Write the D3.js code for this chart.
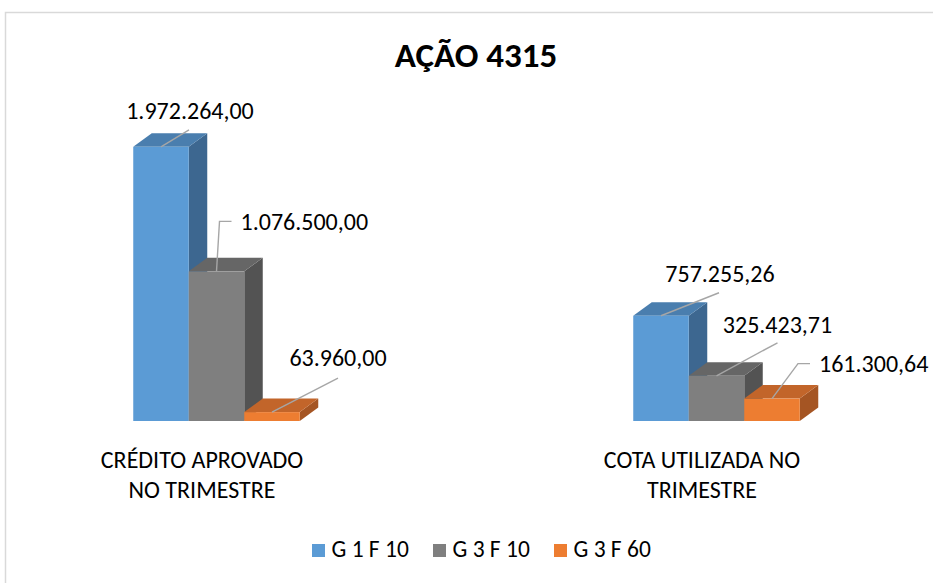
<!DOCTYPE html>
<html>
<head>
<meta charset="utf-8">
<script src="https://cdn.jsdelivr.net/npm/d3@7"></script>
<style>
  body { margin: 0; background: #fff; }
  text { font-family: Carlito, Calibri, "Liberation Sans", Arial, sans-serif; fill: #000; }
</style>
</head>
<body>
<svg id="chart" width="933" height="583"></svg>
<script>
// Chart data
var categories = ["CRÉDITO APROVADO NO TRIMESTRE", "COTA UTILIZADA NO TRIMESTRE"];
var categoryLines = [["CRÉDITO APROVADO", "NO TRIMESTRE"], ["COTA UTILIZADA NO", "TRIMESTRE"]];
var seriesNames = ["G 1 F 10", "G 3 F 10", "G 3 F 60"];
var g1f10 = [1972264.00, 757255.26];
var g3f10 = [1076500.00, 325423.71];
var g3f60 = [63960.00, 161300.64];
var title = "AÇÃO 4315";

// Colours: front, top, side
var colors = [
  ["#5b9bd5", "#4a7eae", "#3d6790"],
  ["#7f7f7f", "#666666", "#535353"],
  ["#ed7d31", "#c2652a", "#a55523"]
];

// Label leader offsets (from front-top centre of each bar), placed by hand like the original
var labelLayout = [
  [ {pts: [[28, -17]], tx: 29, ty: -28, anchor: "middle"},
    {pts: [[58, -23]], tx: 59, ty: -34, anchor: "middle"} ],
  [ {pts: [[3, -50], [15, -50]], tx: 24, ty: -41, anchor: "start"},
    {pts: [[61, -33]], tx: 61, ty: -43, anchor: "middle"} ],
  [ {pts: [[66, -34]], tx: 66, ty: -46, anchor: "middle"},
    {pts: [[26, -35], [38, -35]], tx: 47, ty: -27, anchor: "start"} ]
];

var series = [g1f10, g3f10, g3f60];
var depthX = 18.5, depthY = -13.5;

var svg = d3.select("#chart");

// Outer border
svg.append("rect")
   .attr("x", 5.5).attr("y", 12.5)
   .attr("width", 960).attr("height", 600)
   .attr("fill", "none")
   .attr("stroke", "#d9d9d9")
   .attr("stroke-width", 1.5);

// Title
svg.append("text")
   .attr("x", 476).attr("y", 67)
   .attr("text-anchor", "middle")
   .style("font-size", "35px")
   .style("font-weight", "bold")
   .text(title);

// Scales
var x = d3.scaleBand().domain(categories).range([-48, 952]);
var xInner = d3.scaleBand().domain(seriesNames).range([0, 166.5]);
var y = d3.scaleLinear().domain([0, 2000000]).range([421, 143]);

var ptBR = d3.formatLocale({decimal: ",", thousands: ".", grouping: [3], currency: ["R$", ""]});
var fmt = ptBR.format(",.2f");

var bars = svg.append("g");
var labels = svg.append("g");

categories.forEach(function(cat, ci) {
  var groupLeft = x(cat) + x.bandwidth() / 2 + 14.5 - 83.25;
  seriesNames.forEach(function(name, si) {
    var v = series[si][ci];
    var x0 = groupLeft + xInner(name);
    var x1 = x0 + xInner.bandwidth();
    var yt = y(v), yb = y(0);
    var c = colors[si];

    // side face
    bars.append("polygon")
        .attr("points", [[x1, yt], [x1 + depthX, yt + depthY], [x1 + depthX, yb + depthY], [x1, yb]].join(" "))
        .attr("fill", c[2]);
    // top face
    bars.append("polygon")
        .attr("points", [[x0, yt], [x0 + depthX, yt + depthY], [x1 + depthX, yt + depthY], [x1, yt]].join(" "))
        .attr("fill", c[1]);
    // front face
    bars.append("rect")
        .attr("x", x0).attr("y", yt)
        .attr("width", x1 - x0).attr("height", yb - yt)
        .attr("fill", c[0]);

    // data label with leader line
    var lay = labelLayout[si][ci];
    var cx = (x0 + x1) / 2;
    var pts = [[cx, yt]].concat(lay.pts.map(function(p) { return [cx + p[0], yt + p[1]]; }));
    labels.append("path")
          .attr("d", d3.line()(pts))
          .attr("fill", "none")
          .attr("stroke", "#a6a6a6")
          .attr("stroke-width", 1.4);
    labels.append("text")
          .attr("x", cx + lay.tx).attr("y", yt + lay.ty)
          .attr("text-anchor", lay.anchor)
          .style("font-size", "24px")
          .text(fmt(v));
  });

  // Category label
  var catText = svg.append("text")
                   .attr("text-anchor", "middle")
                   .style("font-size", "24px");
  categoryLines[ci].forEach(function(line, li) {
    catText.append("tspan")
           .attr("x", x(cat) + x.bandwidth() / 2)
           .attr("y", 468 + li * 29.5)
           .text(line);
  });
});

// Legend
var legendX = [312, 433, 554];
var legend = svg.append("g");
seriesNames.forEach(function(name, si) {
  legend.append("rect")
        .attr("x", legendX[si]).attr("y", 544)
        .attr("width", 13).attr("height", 13)
        .attr("fill", colors[si][0]);
  legend.append("text")
        .attr("x", legendX[si] + 19.5).attr("y", 557)
        .style("font-size", "23.5px")
        .text(name);
});
</script>
</body>
</html>
